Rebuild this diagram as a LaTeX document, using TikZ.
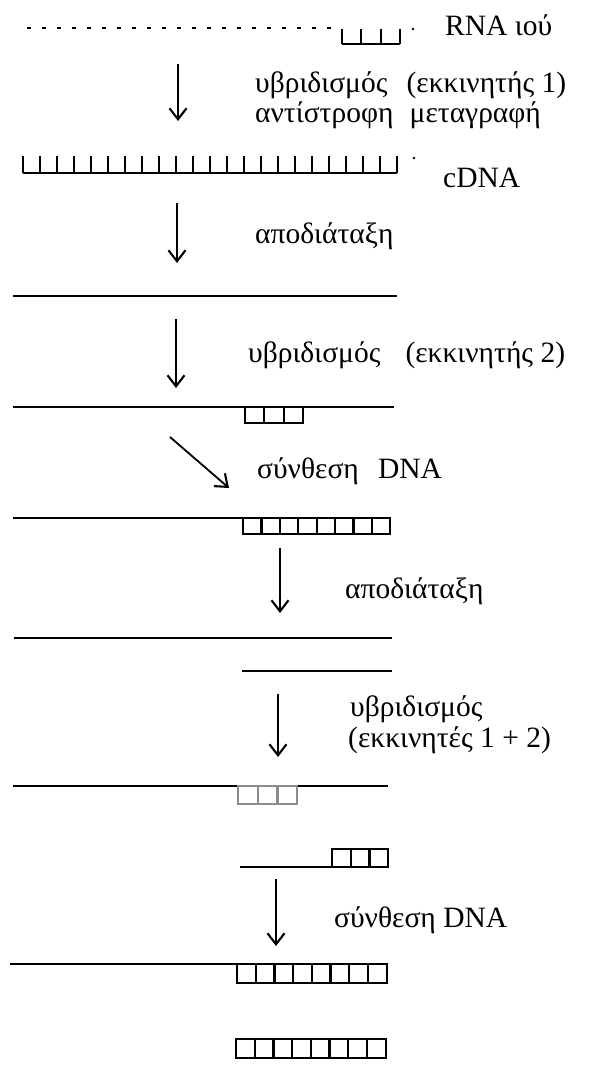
\documentclass[tikz,border=0pt]{standalone}
\usepackage{fontspec}
\setmainfont{Liberation Serif}
\usetikzlibrary{arrows.meta}

\tikzset{
  strand/.style={line width=1.5pt, line cap=butt},
  cellline/.style={line width=2.2pt},
  faintcell/.style={line width=2.2pt, draw=black!45},
  dotted strand/.style={line width=2.2pt, dash pattern=on 3.5pt off 11.5pt},
  steparrow/.style={line width=1.8pt, -{Straight Barb[length=11pt,width=17pt,line width=2.1pt]}},
  lbl/.style={anchor=west, inner sep=0pt, font=\fontsize{29.5}{32}\selectfont},
}

% closed row of cells: x, top y, number of cells, cell width, height
\newcommand\cellrow[6][cellline]{%
  \draw[#1] (#2,#3) rectangle ++(#4*#5,#6);
  \foreach \k in {1,...,#4} {\draw[#1] (#2+\k*#5-#5,#3) -- ++(0,#6);}
}
% open-topped comb of cells: x, bottom y, number of cells, cell width, height
\newcommand\combrow[6][cellline]{%
  \draw[#1] (#2,#3) -- ++(#4*#5,0);
  \draw[#1] (#2,#3) -- ++(0,-#6);
  \foreach \k in {1,...,#4} {\draw[#1] (#2+\k*#5,#3) -- ++(0,-#6);}
}

\begin{document}
\begin{tikzpicture}[x=1pt,y=-1pt]
\useasboundingbox (0,0) rectangle (595,1066);
\fill[white] (0,0) rectangle (595,1066);

% ---- viral RNA with primer 1
\draw[dotted strand] (27,28) -- (338,28);
\combrow{342}{44}{3}{19.3}{15}
\fill (413,29) circle (1.3pt);
\node[lbl] (rna) at (445,25) {RNA ιού};

\coordinate (a1s) at (178,64);
\coordinate (a1e) at (178,121);
\draw[steparrow] (a1s) -- (a1e);
\node[lbl] (l1a) at (255,85) {υβριδισμός\hspace{0.65em}(εκκινητής 1)};
\node[lbl] (l1b) at (255,115) {αντίστροφη\hspace{0.55em}μεταγραφή};

% ---- cDNA
\combrow{23}{173}{22}{17}{17}
\fill (414,158) circle (1.3pt);
\node[lbl] (cdna) at (443,178) {cDNA};

\coordinate (a2s) at (177,203);
\coordinate (a2e) at (177,263);
\draw[steparrow] (a2s) -- (a2e);
\node[lbl] (l2) at (255,236) {αποδιάταξη};

% ---- single strand
\draw[strand] (13,296) -- (397,296);

\coordinate (a3s) at (176,319);
\coordinate (a3e) at (176,388);
\draw[steparrow] (a3s) -- (a3e);
\node[lbl] (l3) at (248,355) {υβριδισμός\hspace{0.85em}(εκκινητής 2)};

% ---- primer 2 annealed
\draw[strand] (13,407) -- (394,407);
\cellrow{245}{407}{3}{19.3}{16}

\coordinate (a4s) at (170,437);
\coordinate (a4e) at (229,488);
\draw[steparrow] (a4s) -- (a4e);
\node[lbl] (l4) at (257,471) {σύνθεση\hspace{0.65em}DNA};

% ---- extended strand
\draw[strand] (13,518) -- (243,518);
\cellrow{243}{518}{8}{18.4}{16}

\coordinate (a5s) at (280,548);
\coordinate (a5e) at (280,613);
\draw[steparrow] (a5s) -- (a5e);
\node[lbl] (l5) at (345,591) {αποδιάταξη};

% ---- two separated strands
\draw[strand] (14,638) -- (392,638);
\draw[strand] (242,671) -- (392,671);

\coordinate (a6s) at (278,694);
\coordinate (a6e) at (278,757);
\draw[steparrow] (a6s) -- (a6e);
\node[lbl] (l6a) at (350,709) {υβριδισμός};
\node[lbl] (l6b) at (348,740) {(εκκινητές 1 + 2)};

% ---- both primers annealed
\draw[strand] (13,786) -- (388,786);
\cellrow[faintcell]{238}{786}{3}{19.7}{18}
\draw[strand] (240,867) -- (332,867);
\cellrow{332}{849}{3}{18.7}{18}

\coordinate (a7s) at (276,879);
\coordinate (a7e) at (276,946);
\draw[steparrow] (a7s) -- (a7e);
\node[lbl] (l7) at (334,920) {σύνθεση DNA};

% ---- products
\draw[strand] (10,964) -- (237,964);
\cellrow{237}{964}{8}{18.7}{19}
\cellrow{236}{1039}{8}{18.7}{19}
\end{tikzpicture}
\end{document}
